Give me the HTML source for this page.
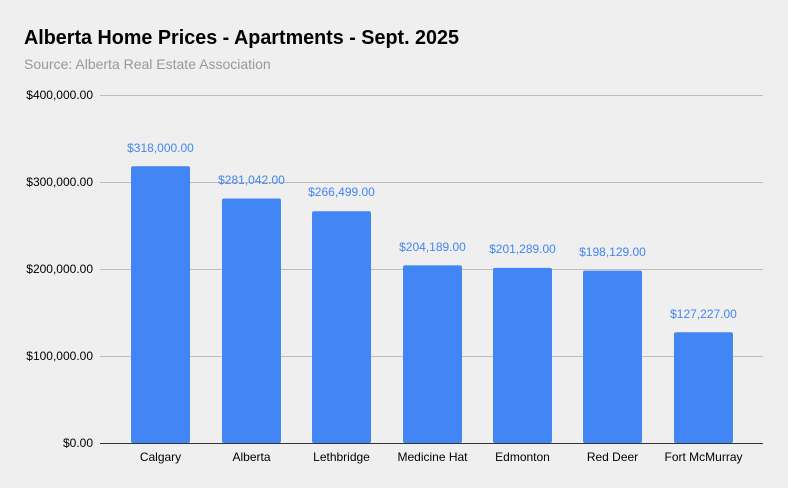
<!DOCTYPE html>
<html><head><style>
html,body{margin:0;padding:0;background:#efefef;}
svg{display:block;font-family:"Liberation Sans",Arial,sans-serif;}
</style></head><body>
<svg width="788" height="488" viewBox="0 0 788 488" xmlns="http://www.w3.org/2000/svg">
<rect width="788" height="488" fill="#efefef"/>
<text x="24" y="44" font-size="20" font-weight="bold" fill="#000" textLength="435" lengthAdjust="spacingAndGlyphs">Alberta Home Prices - Apartments - Sept. 2025</text>
<text x="24" y="69" font-size="14" fill="#999">Source: Alberta Real Estate Association</text>
<g stroke="#bdbdbd" stroke-width="1">
<line x1="100" x2="763" y1="95.5" y2="95.5"/>
<line x1="100" x2="763" y1="182.5" y2="182.5"/>
<line x1="100" x2="763" y1="269.5" y2="269.5"/>
<line x1="100" x2="763" y1="356.5" y2="356.5"/>
</g>
<g font-size="12" fill="#000" text-anchor="end">
<text x="93" y="99">$400,000.00</text>
<text x="93" y="186">$300,000.00</text>
<text x="93" y="273">$200,000.00</text>
<text x="93" y="360">$100,000.00</text>
<text x="93" y="447">$0.00</text>
</g>
<g fill="#4285f4">
<rect x="131" y="166.3" width="59" height="276.7" rx="2"/>
<rect x="222" y="198.5" width="59" height="244.5" rx="2"/>
<rect x="312" y="211.2" width="59" height="231.8" rx="2"/>
<rect x="403" y="265.4" width="59" height="177.6" rx="2"/>
<rect x="493" y="267.9" width="59" height="175.1" rx="2"/>
<rect x="583" y="270.6" width="59" height="172.4" rx="2"/>
<rect x="674" y="332.3" width="59" height="110.7" rx="2"/>
</g>
<line x1="100" x2="763" y1="443.5" y2="443.5" stroke="#333" stroke-width="1"/>
<g font-size="12" fill="#4285f4" text-anchor="middle">
<text x="160.5" y="152">$318,000.00</text>
<text x="251.5" y="184">$281,042.00</text>
<text x="341.5" y="196">$266,499.00</text>
<text x="432.5" y="251">$204,189.00</text>
<text x="522.5" y="253">$201,289.00</text>
<text x="612.5" y="256">$198,129.00</text>
<text x="703.5" y="318">$127,227.00</text>
</g>
<g font-size="12" fill="#000" text-anchor="middle">
<text x="160.5" y="461">Calgary</text>
<text x="251.5" y="461">Alberta</text>
<text x="341.5" y="461">Lethbridge</text>
<text x="432.5" y="461">Medicine Hat</text>
<text x="522.5" y="461">Edmonton</text>
<text x="612.5" y="461">Red Deer</text>
<text x="703.5" y="461">Fort McMurray</text>
</g>
</svg>
</body></html>
